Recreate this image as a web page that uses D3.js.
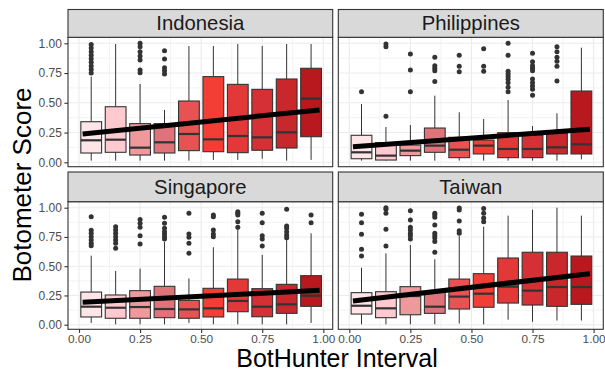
<!DOCTYPE html>
<html>
<head>
<meta charset="utf-8">
<script src="https://cdn.jsdelivr.net/npm/d3@7/dist/d3.min.js"></script>
<style>
html,body{margin:0;padding:0;background:#fff;}
svg{display:block;font-family:"Liberation Sans",Arial,sans-serif;}
</style>
</head>
<body>
<svg id="chart" width="605" height="372"></svg>
<script>
// ---------- data ----------
const countries = ["Indonesia", "Philippines", "Singapore", "Taiwan"];
const intervals = [0.05, 0.15, 0.25, 0.35, 0.45, 0.55, 0.65, 0.75, 0.85, 0.95];
const xTicks = [0, 0.25, 0.5, 0.75, 1];
const xTickLabels = ["0.00", "0.25", "0.50", "0.75", "1.00"];
const yTicks = [0, 0.25, 0.5, 0.75, 1];
const yTickLabels = ["0.00", "0.25", "0.50", "0.75", "1.00"];
const boxColors = ["#FFE4E8", "#FFC9D0", "#EE9A9D", "#E0737A", "#E85252",
                   "#F23E35", "#E23838", "#D53035", "#C8282C", "#B8191F"];

// each box: [lower whisker, q1, median, q3, upper whisker]
const indonesiaBoxes = [
  [0.014, 0.078, 0.185, 0.341, 0.72], [0.014, 0.084, 0.19, 0.467, 0.994],
  [0.014, 0.061, 0.123, 0.325, 0.658], [0.014, 0.078, 0.168, 0.325, 0.44],
  [0.014, 0.098, 0.238, 0.515, 0.977], [0.02, 0.089, 0.193, 0.72, 0.977],
  [0.02, 0.081, 0.221, 0.655, 0.994], [0.03, 0.101, 0.21, 0.613, 0.977],
  [0.014, 0.12, 0.252, 0.70, 0.994], [0.02, 0.215, 0.535, 0.79, 0.994]];
const indonesiaOutliers = [
  [0.99, 0.96, 0.93, 0.90, 0.87, 0.84, 0.81, 0.78, 0.75],
  [], [1.0, 0.971, 0.93, 0.893, 0.86, 0.776, 0.753],
  [0.938, 0.868, 0.795, 0.77, 0.742], [], [], [], [], [], []];
const indonesiaTrend = [0.238, 0.44];

const philippinesBoxes = [
  [0.014, 0.03, 0.084, 0.227, 0.49], [0.014, 0.019, 0.056, 0.165, 0.297],
  [0.014, 0.056, 0.098, 0.145, 0.313], [0.014, 0.084, 0.14, 0.288, 0.56],
  [0.014, 0.039, 0.106, 0.21, 0.42], [0.014, 0.07, 0.14, 0.187, 0.364],
  [0.014, 0.039, 0.112, 0.249, 0.524], [0.014, 0.039, 0.112, 0.229, 0.305],
  [0.014, 0.07, 0.126, 0.244, 0.412], [0.025, 0.07, 0.151, 0.599, 0.963]];
const philippinesOutliers = [
  [0.593], [0.994, 0.971, 0.387], [0.91, 0.776, 0.593],
  [0.882, 0.812, 0.79, 0.77, 0.68], [0.899, 0.807, 0.761], [0.955, 0.807, 0.765],
  [1.0, 0.899, 0.765, 0.742, 0.72, 0.697, 0.669, 0.63, 0.593],
  [0.916, 0.845, 0.812, 0.79, 0.77, 0.70, 0.669, 0.641, 0.613, 0.563],
  [0.971, 0.93, 0.882, 0.85, 0.807, 0.683], []];
const philippinesTrend = [0.131, 0.277];

const singaporeBoxes = [
  [0.015, 0.066, 0.154, 0.279, 0.59], [0.003, 0.055, 0.145, 0.254, 0.459],
  [0.003, 0.055, 0.151, 0.291, 0.479], [0.003, 0.06, 0.134, 0.328, 0.709],
  [0.015, 0.055, 0.131, 0.208, 0.396], [0.003, 0.066, 0.14, 0.311, 0.662],
  [0.003, 0.111, 0.203, 0.39, 0.824], [0.003, 0.068, 0.154, 0.308, 0.596],
  [0.003, 0.097, 0.174, 0.345, 0.732], [0.015, 0.157, 0.248, 0.419, 0.781]];
const singaporeOutliers = [
  [0.923, 0.808, 0.781, 0.752, 0.724, 0.696, 0.675],
  [0.838, 0.81, 0.781, 0.752, 0.724, 0.696, 0.653],
  [0.90, 0.867, 0.832, 0.761, 0.69],
  [0.918, 0.867, 0.824, 0.795, 0.775, 0.752, 0.732],
  [0.952, 0.775, 0.747, 0.696, 0.61],
  [0.938, 0.923, 0.809, 0.775, 0.752],
  [0.966, 0.952, 0.938, 0.88, 0.832],
  [0.952, 0.872, 0.761, 0.732, 0.673],
  [0.986, 0.843, 0.824, 0.795, 0.767, 0.744],
  [0.938, 0.872]];
const singaporeTrend = [0.191, 0.294];

const taiwanBoxes = [
  [0.003, 0.091, 0.162, 0.274, 0.487], [0.003, 0.06, 0.14, 0.282, 0.61],
  [0.003, 0.085, 0.245, 0.325, 0.681], [0.003, 0.097, 0.154, 0.282, 0.559],
  [0.01, 0.134, 0.24, 0.39, 0.758], [0.003, 0.149, 0.265, 0.436, 0.838],
  [0.043, 0.185, 0.325, 0.57, 0.932], [0.025, 0.168, 0.291, 0.619, 0.983],
  [0.036, 0.157, 0.322, 0.619, 1.0], [0.036, 0.174, 0.322, 0.587, 0.932]];
const taiwanOutliers = [
  [0.943, 0.872, 0.773, 0.644, 0.587],
  [1.0, 0.986, 0.952, 0.815, 0.673],
  [0.974, 0.895, 0.832, 0.809, 0.781, 0.761, 0.732],
  [0.952, 0.938, 0.918, 0.852, 0.781, 0.761, 0.74, 0.712, 0.619],
  [0.997, 0.98, 0.886, 0.804, 0.781],
  [0.994, 0.952, 0.912, 0.88],
  [], [], [], []];
const taiwanTrend = [0.203, 0.436];

const boxesByCountry = [indonesiaBoxes, philippinesBoxes, singaporeBoxes, taiwanBoxes];
const outliersByCountry = [indonesiaOutliers, philippinesOutliers, singaporeOutliers, taiwanOutliers];
const trendByCountry = [indonesiaTrend, philippinesTrend, singaporeTrend, taiwanTrend];
const trendRange = [0.015, 0.985];

// ---------- layout ----------
const svg = d3.select("#chart");
const colLeft = [68, 338.3], colRight = [332.7, 603.3];
const rowStripTop = [9.5, 172], rowPlotTop = [37.3, 201.7], rowPlotBottom = [166.7, 329.3];
const colX0 = [79, 349.3], colX1 = [323.3, 593.6];
const rowY0 = [162.3, 324.7], rowY1 = [43.3, 207.7];
const boxWidth = 0.085;
const ink = "#333333";

countries.forEach((name, i) => {
  const col = i % 2, row = Math.floor(i / 2);
  const x = d3.scaleLinear().domain([0, 1]).range([colX0[col], colX1[col]]);
  const y = d3.scaleLinear().domain([0, 1]).range([rowY0[row], rowY1[row]]);
  const L = colLeft[col], R = colRight[col], T = rowPlotTop[row], B = rowPlotBottom[row];
  const g = svg.append("g");

  g.append("rect").attr("x", L).attr("y", T).attr("width", R - L).attr("height", B - T).attr("fill", "#fff");

  const minor = [0.125, 0.375, 0.625, 0.875];
  minor.forEach(v => {
    g.append("line").attr("x1", L).attr("x2", R).attr("y1", y(v)).attr("y2", y(v))
      .attr("stroke", "#EBEBEB").attr("stroke-width", 0.6);
    g.append("line").attr("y1", T).attr("y2", B).attr("x1", x(v)).attr("x2", x(v))
      .attr("stroke", "#EBEBEB").attr("stroke-width", 0.6);
  });
  yTicks.forEach(v => {
    g.append("line").attr("x1", L).attr("x2", R).attr("y1", y(v)).attr("y2", y(v))
      .attr("stroke", "#EBEBEB").attr("stroke-width", 1.1);
  });
  xTicks.forEach(v => {
    g.append("line").attr("y1", T).attr("y2", B).attr("x1", x(v)).attr("x2", x(v))
      .attr("stroke", "#EBEBEB").attr("stroke-width", 1.1);
  });

  const boxes = boxesByCountry[i], outs = outliersByCountry[i];
  boxes.forEach((b, k) => {
    const cx = x(intervals[k]);
    const x0 = x(intervals[k] - boxWidth / 2), x1 = x(intervals[k] + boxWidth / 2);
    g.append("line").attr("x1", cx).attr("x2", cx).attr("y1", y(b[3])).attr("y2", y(b[4]))
      .attr("stroke", ink).attr("stroke-width", 1);
    g.append("line").attr("x1", cx).attr("x2", cx).attr("y1", y(b[1])).attr("y2", y(b[0]))
      .attr("stroke", ink).attr("stroke-width", 1);
    g.append("rect").attr("x", x0).attr("y", y(b[3])).attr("width", x1 - x0)
      .attr("height", y(b[1]) - y(b[3])).attr("fill", boxColors[k])
      .attr("stroke", ink).attr("stroke-width", 1.1);
    g.append("line").attr("x1", x0).attr("x2", x1).attr("y1", y(b[2])).attr("y2", y(b[2]))
      .attr("stroke", ink).attr("stroke-width", 2.2);
    outs[k].forEach(v => {
      g.append("circle").attr("cx", cx).attr("cy", y(v)).attr("r", 2.5).attr("fill", ink);
    });
  });

  const tr = trendByCountry[i];
  const band = 0.012;
  g.append("path")
    .attr("d", d3.area().x(d => x(d[0])).y0(d => y(d[1] - band)).y1(d => y(d[1] + band))
      ([[trendRange[0], tr[0]], [trendRange[1], tr[1]]]))
    .attr("fill", "#999").attr("opacity", 0.4);
  g.append("line").attr("x1", x(trendRange[0])).attr("x2", x(trendRange[1]))
    .attr("y1", y(tr[0])).attr("y2", y(tr[1]))
    .attr("stroke", "#000").attr("stroke-width", 5);

  g.append("rect").attr("x", L).attr("y", T).attr("width", R - L).attr("height", B - T)
    .attr("fill", "none").attr("stroke", ink).attr("stroke-width", 1.1);

  g.append("rect").attr("x", L).attr("y", rowStripTop[row]).attr("width", R - L)
    .attr("height", T - rowStripTop[row]).attr("fill", "#D9D9D9")
    .attr("stroke", ink).attr("stroke-width", 1.1);
  g.append("text").attr("x", (L + R) / 2).attr("y", (rowStripTop[row] + T) / 2)
    .attr("text-anchor", "middle").attr("dominant-baseline", "central")
    .attr("font-size", 20.3).attr("fill", "#1A1A1A").text(name);

  if (col === 0) {
    const ya = d3.axisLeft(y).tickValues(yTicks).tickFormat((d, j) => yTickLabels[j])
      .tickSize(3.6).tickPadding(2.5);
    const ag = g.append("g").attr("transform", `translate(${L},0)`).call(ya);
    ag.select(".domain").remove();
    ag.selectAll(".tick line").attr("stroke", ink).attr("stroke-width", 1.1);
    ag.selectAll(".tick text").attr("fill", "#4D4D4D").attr("font-size", 12)
      .attr("font-family", "Liberation Sans, Arial, sans-serif");
  }
  if (row === 1) {
    const xa = d3.axisBottom(x).tickValues(xTicks).tickFormat((d, j) => xTickLabels[j])
      .tickSize(3.6).tickPadding(2);
    const ag = g.append("g").attr("transform", `translate(0,${B})`).call(xa);
    ag.select(".domain").remove();
    ag.selectAll(".tick line").attr("stroke", ink).attr("stroke-width", 1.1);
    ag.selectAll(".tick text").attr("fill", "#4D4D4D").attr("font-size", 11.8)
      .attr("font-family", "Liberation Sans, Arial, sans-serif");
  }
});

svg.append("text").attr("x", 337).attr("y", 366.5).attr("text-anchor", "middle")
  .attr("font-size", 25).attr("fill", "#000").text("BotHunter Interval");
svg.append("text").attr("transform", "translate(31,185) rotate(-90)")
  .attr("text-anchor", "middle").attr("font-size", 26).attr("fill", "#000").text("Botometer Score");
</script>
</body>
</html>
